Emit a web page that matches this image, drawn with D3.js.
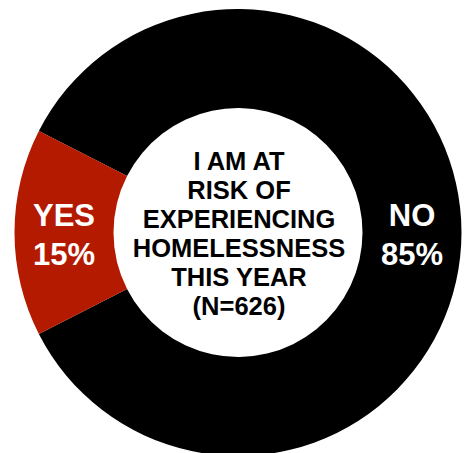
<!DOCTYPE html>
<html>
<head>
<meta charset="utf-8">
<script src="https://cdn.jsdelivr.net/npm/d3@7"></script>
<style>
  html, body { margin: 0; padding: 0; background: #fff; }
  svg { display: block; }
</style>
</head>
<body>
<div id="chart"></div>
<script>
// Survey answers: share of respondents at risk of homelessness
const answers = ["NO", "YES"];
const shares = [85, 15];
const sliceColors = ["#000000", "#B41A00"];
const centerLines = ["I AM AT", "RISK OF", "EXPERIENCING", "HOMELESSNESS", "THIS YEAR", "(N=626)"];

const width = 467, height = 453;
const cx = 238, cy = 232.5;
const outerR = 223.5, innerR = 124.5;

const svg = d3.select("#chart").append("svg")
  .attr("width", width)
  .attr("height", height);

const g = svg.append("g").attr("transform", `translate(${cx},${cy})`);

const data = answers.map((a, i) => ({ answer: a, share: shares[i], color: sliceColors[i] }));

// Place the small slice centred on the left side of the ring
const yesSpan = 2 * Math.PI * shares[1] / d3.sum(shares);
const start = 1.5 * Math.PI + yesSpan / 2 - 2 * Math.PI;

const pie = d3.pie()
  .sort(null)
  .value(d => d.share)
  .startAngle(start)
  .endAngle(start + 2 * Math.PI);

const arc = d3.arc().innerRadius(innerR).outerRadius(outerR);

const arcs = pie(data);

g.selectAll("path.slice")
  .data(arcs)
  .join("path")
  .attr("class", "slice")
  .attr("d", arc)
  .attr("fill", d => d.data.color);

// Slice labels: answer on first line, percentage on second
const labels = g.selectAll("text.slice-label")
  .data(arcs)
  .join("text")
  .attr("class", "slice-label")
  .attr("text-anchor", "middle")
  .attr("fill", "#fff")
  .style("font-family", "'Liberation Sans', Arial, Helvetica, sans-serif")
  .style("font-weight", "bold")
  .style("font-size", "31px")
  .attr("transform", d => {
    const [x] = arc.centroid(d);
    return `translate(${x},0)`;
  });

labels.append("tspan").attr("x", 0).attr("y", -6.5).text(d => d.data.answer);
labels.append("tspan").attr("x", 0).attr("y", 32.5).text(d => d.data.share + "%");

// Centre caption
const caption = g.append("text")
  .attr("text-anchor", "middle")
  .attr("fill", "#000")
  .style("font-family", "'Liberation Sans', Arial, Helvetica, sans-serif")
  .style("font-weight", "bold")
  .style("font-size", "25.5px");

caption.selectAll("tspan")
  .data(centerLines)
  .join("tspan")
  .attr("x", 1)
  .attr("y", (d, i) => -62.5 + i * 29)
  .text(d => d);
</script>
</body>
</html>
